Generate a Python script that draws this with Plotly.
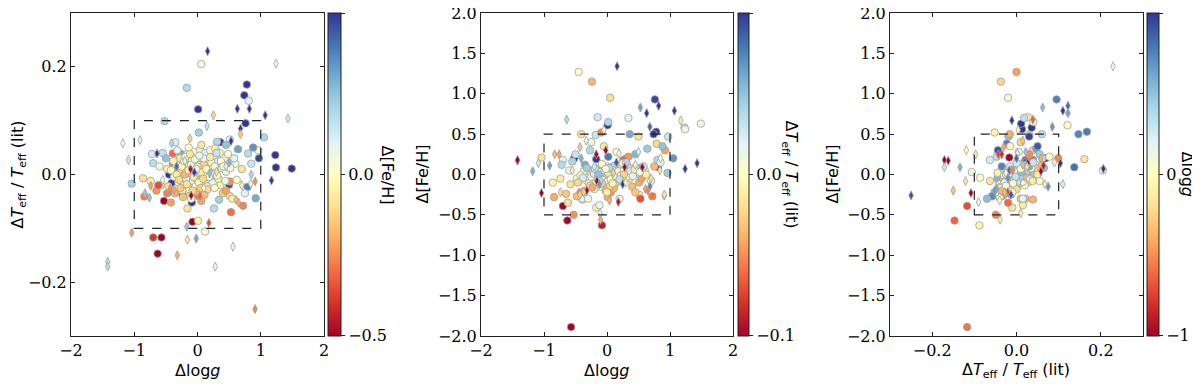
import plotly.graph_objects as go

# circles: (dlogg, dTeff/Teff, d[Fe/H])
circ_logg = [
    -0.45, -0.24, 0.05, 0.76, 1.23, 1.24, 1.49, 0.78, 0.74, -1.04,
    -0.70, -0.63, -0.57, -0.08, 1.05, 0.01, 0.06, -0.17, 0.81, -0.52,
    0.12, -0.53, -0.15, 0.34, 0.02, -0.18, 0.36, 0.97, 0.50, -0.09,
    0.96, 0.79, 0.92, -0.84, -0.86, -0.74, -0.65, -0.70, -0.39, -0.27,
    0.64, 0.80, 0.51, 0.31, 0.02, -0.39, -0.41, 0.51, -0.48, -0.42,
    0.01, 0.06, 0.51, 0.55, 0.34, 0.72, -0.16, 0.26, 0.01, -0.72,
    -0.55, -0.17, -0.12, 0.53,
    0.40, 0.45, 0.60, 0.62, 0.70, 0.75, 0.85, 0.88, -0.60, -0.58,
    -0.50, -0.48, -0.62, -0.30, -0.35, 0.15, -0.05, 0.45, 0.20, -0.25,
    -0.30, -0.26, -0.22, -0.20, -0.18, -0.15, -0.13, -0.11, -0.09, -0.07,
    -0.05, -0.03, -0.01, 0.01, 0.03, 0.05, 0.07, 0.09, 0.11, 0.13,
    0.15, 0.17, 0.19, 0.21, 0.23, 0.26, 0.29, 0.32, 0.35, 0.38,
    -0.34, -0.37, -0.28, -0.24, -0.16, -0.12, -0.06, -0.02, 0.04, 0.08,
    0.12, 0.16, 0.20, 0.24, 0.28, 0.33, 0.42, 0.45, 0.48, -0.42,
    -0.46, -0.20, 0.00, -0.08, 0.10, 0.25, 0.36, -0.32, 0.06, -0.10,
    -0.33, -0.29, -0.25, -0.21, -0.17, -0.14, -0.10, -0.06, -0.04, 0.00,
    0.02, 0.06, 0.10, 0.14, 0.18, 0.22, 0.27, 0.31, 0.37, 0.41,
    -0.38, -0.27, -0.19, -0.08, 0.03, 0.15, 0.27, 0.44, 0.52, 0.58,
    -0.23, -0.14, 0.11, 0.30, -0.36, 0.05, 0.20, -0.02, 0.09, -0.12,
]
circ_teff = [
    0.000, -0.037, -0.020, 0.095, 0.036, 0.013, 0.011, 0.167, 0.147, -0.017,
    -0.117, -0.147, -0.117, -0.088, 0.069, 0.121, 0.205, 0.161, 0.137, 0.099,
    -0.106, -0.049, 0.027, 0.018, 0.040, 0.030, 0.060, 0.030, -0.019, -0.052,
    0.045, -0.023, -0.044, -0.041, -0.007, -0.012, -0.030, 0.021, 0.039, 0.039,
    0.047, 0.039, 0.065, 0.061, 0.078, 0.021, -0.016, -0.013, -0.035, -0.052,
    -0.040, -0.049, -0.040, -0.045, -0.047, -0.058, -0.063, -0.063, -0.086, 0.038,
    0.040, -0.010, 0.015, -0.070,
    -0.035, 0.055, 0.020, -0.010, 0.010, -0.035, 0.020, 0.050, 0.015, -0.020,
    0.030, 0.010, -0.020, 0.010, 0.060, 0.005, -0.015, -0.030, 0.015, 0.010,
    -0.015, 0.005, -0.020, 0.012, -0.008, 0.020, -0.028, 0.002, 0.025, -0.012,
    0.015, -0.022, 0.030, 0.008, -0.005, 0.018, -0.018, 0.035, 0.004, 0.022,
    -0.010, 0.012, 0.028, -0.003, 0.016, 0.033, 0.006, 0.024, 0.040, 0.012,
    0.018, -0.004, 0.030, -0.030, 0.038, -0.040, 0.042, -0.032, 0.046, -0.030,
    0.040, -0.022, 0.045, -0.015, 0.048, -0.008, 0.030, 0.005, 0.038, 0.008,
    -0.022, 0.000, -0.010, 0.005, 0.020, 0.000, -0.020, 0.045, 0.055, -0.045,
    0.000, -0.010, 0.015, 0.025, -0.018, 0.008, 0.018, -0.005, 0.028, 0.015,
    -0.015, 0.004, 0.030, 0.010, -0.005, 0.022, 0.015, -0.002, 0.025, 0.015,
    0.025, -0.025, 0.033, -0.030, 0.035, -0.028, -0.025, -0.012, 0.012, 0.030,
    -0.042, 0.050, -0.038, 0.040, -0.035, -0.025, 0.032, 0.010, -0.008, 0.038,
]
circ_feh = [
    1.27, 1.15, 0.95, 0.93, 0.58, 0.56, 0.63, 0.53, 0.50, 0.21,
    -0.39, -0.57, -1.89, -0.63, 0.20, 0.61, 0.05, 0.19, 0.09, 0.20,
    0.03, -0.50, 0.71, 0.70, 0.65, 0.49, 0.50, 0.47, 0.47, 0.52,
    0.02, 0.38, 0.30, -0.28, -0.10, -0.05, -0.24, 0.18, -0.31, 0.30,
    0.32, 0.18, 0.08, 0.20, 0.22, -0.30, 0.50, -0.25, -0.27, -0.22,
    -0.28, -0.22, -0.10, -0.05, 0.22, -0.27, -0.08, 0.18, -0.04, 0.12,
    0.16, -0.41, -0.38, -0.30,
    -0.15, 0.25, 0.05, 0.00, -0.08, 0.10, 0.15, 0.35, 0.05, -0.12,
    0.25, -0.05, -0.35, -0.30, 0.12, 0.28, 0.35, -0.22, -0.30, 0.40,
    0.02, -0.12, 0.05, -0.08, 0.08, -0.05, 0.00, -0.15, -0.02, 0.06,
    -0.10, 0.03, -0.06, 0.10, -0.04, 0.01, 0.07, -0.03, 0.04, -0.09,
    0.02, 0.09, 0.00, 0.05, -0.02, 0.08, 0.03, 0.12, 0.02, 0.07,
    -0.03, 0.04, -0.09, -0.06, 0.04, -0.12, 0.00, -0.20, 0.06, -0.01,
    0.11, -0.07, 0.03, 0.10, -0.04, 0.01, 0.04, 0.09, 0.01, -0.01,
    -0.10, -0.18, -0.22, 0.13, -0.13, 0.14, -0.05, 0.08, -0.08, 0.02,
    -0.07, -0.11, -0.03, 0.01, -0.09, -0.04, 0.03, -0.07, 0.05, -0.09,
    0.02, -0.06, 0.05, -0.03, 0.04, -0.01, 0.06, -0.03, 0.04, -0.02,
    -0.04, -0.14, 0.07, -0.11, 0.08, -0.10, 0.00, 0.06, 0.03, 0.10,
    -0.16, 0.00, -0.17, 0.15, -0.20, -0.14, -0.06, 0.07, -0.11, -0.08,
]

# thin diamonds
diam_logg = [
    0.16, 0.53, 0.82, 1.07, 0.63, 1.17, 0.68, -1.42, -1.42, -1.18,
    -1.09, -0.91, -1.04, 0.18, 0.91, 1.43, 1.24, 0.25, 0.15, 0.68,
    -0.64, -0.32, -0.16, -0.02, -0.17, 0.56, 0.28, -0.10, -0.11, -0.41,
    -0.12, -0.76, -0.83, -0.74, -0.43, 0.84, 0.91, 0.61, 0.65, -0.43,
    -0.37, 0.04, -0.05, 0.50, 0.19, -0.33, 0.30, -0.20, 0.10, 0.45,
    -0.55, 0.70, 0.85,
]
diam_teff = [
    0.229, 0.062, 0.122, 0.110, 0.122, -0.011, 0.085, -0.162, -0.171, 0.058,
    0.027, 0.064, -0.108, -0.090, -0.250, 0.104, 0.206, 0.110, 0.090, 0.075,
    0.039, -0.150, -0.121, -0.119, -0.097, -0.134, -0.171, -0.039, 0.010, 0.058,
    0.067, -0.043, -0.035, -0.021, -0.030, -0.017, -0.013, -0.047, -0.052, -0.026,
    -0.028, -0.040, 0.004, 0.022, 0.002, 0.015, 0.005, 0.025, -0.025, 0.015,
    -0.010, -0.020, 0.000,
]
diam_feh = [
    1.34, 0.83, 0.85, 0.79, 0.76, 0.67, 0.59, 0.17, 0.18, 0.04,
    0.14, 0.11, -0.23, -0.34, -0.26, 0.14, 0.07, -0.12, 0.15, -0.15,
    0.68, -0.20, -0.08, 0.30, 0.25, 0.09, 0.09, -0.56, -0.48, 0.20,
    -0.12, 0.25, 0.25, -0.22, 0.34, 0.05, -0.25, -0.18, -0.20, -0.25,
    -0.22, -0.32, 0.55, 0.28, 0.26, 0.42, -0.10, 0.10, 0.02, 0.12,
    0.05, -0.05, 0.20,
]

# dashed selection boxes: [x0, x1, y0, y1]
box_logg_teff = [-1, 1, -0.1, 0.1]
box_logg_feh = [-1, 1, -0.5, 0.5]
box_teff_feh = [-0.1, 0.1, -0.5, 0.5]

RDYLBU = ["#a50026", "#d73027", "#f46d43", "#fdae61", "#fee090", "#ffffbf",
          "#e0f3f8", "#abd9e9", "#74add1", "#4575b4", "#313695"]

# the page body has an 8px margin, so the figure is laid out 8px in from the window edge
OFF = 8
W, H = 1200 - OFF, 384 - OFF
SERIF = "DejaVu Serif, Liberation Serif, serif"
SANS = "DejaVu Sans"
TEFF_LABEL = "Δ<i>T</i><sub>eff</sub> / <i>T</i><sub>eff</sub> (lit)"
LOGG_LABEL = "Δlog<i>g</i>"
FEH_LABEL = "Δ[Fe/H]"


def fx(p):
    # window pixel -> paper fraction
    return (p - OFF) / W


def fy(p):
    return 1 - (p - OFF) / H


def ticks(vals, fmt):
    return [fmt.format(v).replace("-", "−") for v in vals]


def padded(r):
    # a hair of slack so the end ticks are not dropped
    e = (r[1] - r[0]) * 1e-6
    return [r[0] - e, r[1] + e]


panels = [
    dict(cx=circ_logg, cy=circ_teff, cc=circ_feh, dx=diam_logg, dy=diam_teff, dc=diam_feh,
         crange=0.5, xr=[-2, 2], yr=[-0.3, 0.3], xt=[-2, -1, 0, 1, 2], xf="{:.0f}",
         yt=[-0.2, 0.0, 0.2], yf="{:.1f}", ct=[-0.5, 0.0, 0.5], cf="{:.1f}",
         box=box_logg_teff, left=71, right=324, cb=(328, 12.5),
         xlab=LOGG_LABEL, ylab=TEFF_LABEL, clab=FEH_LABEL, ylab_x=18, clab_x=387),
    dict(cx=circ_logg, cy=circ_feh, cc=circ_teff, dx=diam_logg, dy=diam_feh, dc=diam_teff,
         crange=0.1, xr=[-2, 2], yr=[-2, 2], xt=[-2, -1, 0, 1, 2], xf="{:.0f}",
         yt=[-2, -1.5, -1, -0.5, 0, 0.5, 1, 1.5, 2], yf="{:.1f}", ct=[-0.1, 0.0, 0.1], cf="{:.1f}",
         box=box_logg_feh, left=481, right=733, cb=(737.7, 10.6),
         xlab=LOGG_LABEL, ylab=FEH_LABEL, clab=TEFF_LABEL, ylab_x=422, clab_x=790),
    dict(cx=circ_teff, cy=circ_feh, cc=circ_logg, dx=diam_teff, dy=diam_feh, dc=diam_logg,
         crange=1.0, xr=[-0.3, 0.3], yr=[-2, 2], xt=[-0.2, 0.0, 0.2], xf="{:.1f}",
         yt=[-2, -1.5, -1, -0.5, 0, 0.5, 1, 1.5, 2], yf="{:.1f}", ct=[-1, 0, 1], cf="{:.0f}",
         box=box_teff_feh, left=890, right=1143, cb=(1146.7, 11.6),
         xlab=TEFF_LABEL, ylab=FEH_LABEL, clab=LOGG_LABEL, ylab_x=832, clab_x=1187),
]

TOP, BOTTOM = 13, 336
fig = go.Figure()
layout = dict(
    width=W, height=H, margin=dict(l=0, r=0, t=0, b=0, autoexpand=False),
    plot_bgcolor="white", paper_bgcolor="white", showlegend=False,
    font=dict(family=SERIF, size=16, color="black"),
    annotations=[], shapes=[],
)

for i, p in enumerate(panels, start=1):
    sfx = "" if i == 1 else str(i)
    cax = "coloraxis" + sfx
    for xs, ys, cs, sym, size in [(p["cx"], p["cy"], p["cc"], "circle", 7.5),
                                  (p["dx"], p["dy"], p["dc"], "diamond-tall", 6.5)]:
        fig.add_trace(go.Scatter(
            x=xs, y=ys, mode="markers", xaxis="x" + sfx, yaxis="y" + sfx,
            marker=dict(symbol=sym, size=size, color=cs, coloraxis=cax,
                        line=dict(color="#a0a0a0", width=0.8)),
            hoverinfo="skip",
        ))

    axis_common = dict(
        showgrid=False, zeroline=False, showline=True, mirror="ticks",
        linecolor="#222", linewidth=1, ticks="inside", ticklen=4,
        tickwidth=1, tickcolor="#222", tickfont=dict(family=SERIF, size=16),
        automargin=False, ticklabeloverflow="allow",
    )
    layout["xaxis" + sfx] = dict(
        axis_common, domain=[fx(p["left"]), fx(p["right"])], range=padded(p["xr"]),
        anchor="y" + sfx, tickvals=p["xt"], ticktext=ticks(p["xt"], p["xf"]),
    )
    layout["yaxis" + sfx] = dict(
        axis_common, domain=[fy(BOTTOM), fy(TOP)], range=padded(p["yr"]),
        anchor="x" + sfx, tickvals=p["yt"], ticktext=ticks(p["yt"], p["yf"]),
    )
    eps = p["crange"] * 1e-3
    layout[cax] = dict(
        colorscale=[[k / 10, c] for k, c in enumerate(RDYLBU)],
        cmin=-p["crange"] - eps, cmax=p["crange"] + eps,
        colorbar=dict(
            x=fx(p["cb"][0]), xanchor="left", xpad=0,
            y=fy(BOTTOM), yanchor="bottom", ypad=0,
            len=BOTTOM - TOP, lenmode="pixels",
            thickness=p["cb"][1], thicknessmode="pixels",
            outlinewidth=1, outlinecolor="#222",
            tickvals=p["ct"], ticktext=ticks(p["ct"], p["cf"]),
            ticks="outside", ticklen=4, tickcolor="#222",
            tickfont=dict(family=SERIF, size=16),
        ),
    )

    b = p["box"]
    layout["shapes"].append(dict(
        type="rect", xref="x" + sfx, yref="y" + sfx,
        x0=b[0], x1=b[1], y0=b[2], y1=b[3], layer="above",
        line=dict(color="#222", width=1.2, dash="dash"),
    ))

    mid_x = (p["left"] + p["right"]) / 2
    mid_y = (TOP + BOTTOM) / 2
    layout["annotations"] += [
        dict(text=p["xlab"], x=fx(mid_x), y=fy(370), xref="paper", yref="paper",
             showarrow=False, xanchor="center", yanchor="middle",
             font=dict(family=SANS, size=16)),
        dict(text=p["ylab"], x=fx(p["ylab_x"]), y=fy(mid_y), xref="paper", yref="paper",
             showarrow=False, xanchor="center", yanchor="middle", textangle=-90,
             font=dict(family=SANS, size=16)),
        dict(text=p["clab"], x=fx(p["clab_x"]), y=fy(mid_y), xref="paper", yref="paper",
             showarrow=False, xanchor="center", yanchor="middle", textangle=90,
             font=dict(family=SANS, size=16)),
    ]

fig.update_layout(**layout)
fig.write_html("out.html")
